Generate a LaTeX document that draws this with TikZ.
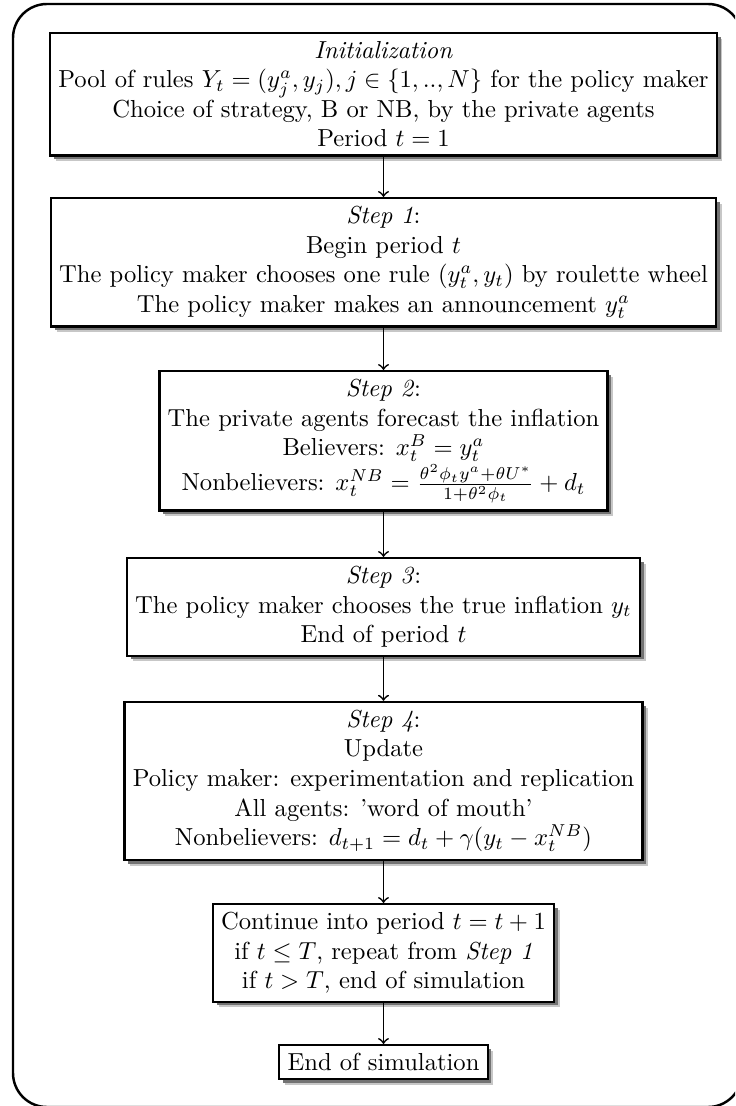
\documentclass[tikz,border=0pt]{standalone}
\usetikzlibrary{shadows}
\begin{document}
\begin{tikzpicture}[x=0.4065pt,y=-0.4065pt,
  box/.style={draw=black,line width=0.9pt,fill=white,align=center,anchor=north,
    drop shadow={shadow xshift=2.3pt,shadow yshift=-2.3pt,fill=black!22,opacity=1},
    drop shadow={shadow xshift=1.5pt,shadow yshift=-1.5pt,fill=black!55,opacity=1}},
  link/.style={->,line width=0.7pt}]
\useasboundingbox (0,0) rectangle (735,1106);
\clip (0,0) rectangle (735,1106);
\draw[line width=1pt,rounded corners=13.8pt] (13,4) rectangle (742,1107);
\node[box] (init) at (383.5,32) {\textit{Initialization}\\
  Pool of rules $Y_t=(y_j^a,y_j), j\in\{1,..,N\}$ for the policy maker\\
  Choice of strategy, B or NB, by the private agents\\
  Period $t=1$};
\node[box] (s1) at (383.5,197) {\textit{Step 1}:\\
  Begin period $t$\\
  The policy maker chooses one rule $(y_t^a,y_t)$ by roulette wheel\\
  The policy maker makes an announcement $y_t^a$};
\node[box] (s2) at (383.5,370) {\textit{Step 2}:\\
  The private agents forecast the inflation\\
  Believers: $x_t^B=y_t^a$\\
  Nonbelievers: $x_t^{NB}=\frac{\theta^2\phi_t y^a+\theta U^*}{1+\theta^2\phi_t}+d_t$};
\node[box] (s3) at (383.5,557) {\textit{Step 3}:\\
  The policy maker chooses the true inflation $y_t$\\
  End of period $t$};
\node[box,anchor=south] (s4) at (383.5,861) {\textit{Step 4}:\\
  Update\\
  Policy maker: experimentation and replication\\
  All agents: 'word of mouth'\\
  Nonbelievers: $d_{t+1}=d_t+\gamma(y_t-x_t^{NB})$};
\node[box] (cont) at (383.5,903) {Continue into period $t=t+1$\\
  if $t\leq T$, repeat from \textit{Step 1}\\
  if $t>T$, end of simulation};
\node[box] (end) at (383.5,1044) {End of simulation};
\draw[link] (init) -- (s1);
\draw[link] (s1) -- (s2);
\draw[link] (s2) -- (s3);
\draw[link] (s3) -- (s4);
\draw[link] (s4) -- (cont);
\draw[link] (cont) -- (end);
\end{tikzpicture}
\end{document}
